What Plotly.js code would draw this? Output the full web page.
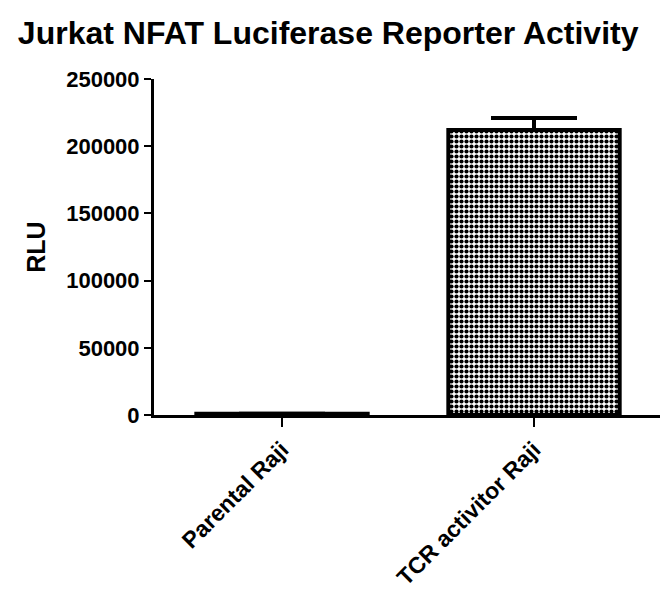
<!DOCTYPE html>
<html>
<head>
<meta charset="utf-8">
<script src="https://cdn.plot.ly/plotly-3.0.1.min.js"></script>
<style>html,body{margin:0;padding:0;background:#fff;}#chart{width:662px;height:605px;}</style>
</head>
<body>
<div id="chart"></div>
<script>
const categories = ["Parental Raji", "TCR activitor Raji"];
const rluValues = [1000, 212000];
const rluErrorUp = [0, 9000];
const yTickValues = [0, 50000, 100000, 150000, 200000, 250000];
const yTickLabels = ["0", "50000", "100000", "150000", "200000", "250000"];

const trace = {
  type: "bar",
  x: categories,
  y: rluValues,
  width: 0.68,
  marker: {
    color: "#ffffff",
    line: {color: "#000000", width: 4},
    pattern: {shape: ".", fgcolor: "#000000", bgcolor: "#ffffff", size: 5, solidity: 0.55, fillmode: "replace"}
  },
  error_y: {
    type: "data",
    symmetric: false,
    array: rluErrorUp,
    arrayminus: [0, 0],
    color: "#000000",
    thickness: 4,
    width: 43
  },
  hoverinfo: "skip"
};

const layout = {
  width: 662,
  height: 605,
  margin: {l: 154, r: 2, t: 79, b: 190},
  paper_bgcolor: "#ffffff",
  plot_bgcolor: "#ffffff",
  showlegend: false,
  font: {family: "Liberation Sans, Arial, sans-serif", color: "#000000"},
  title: {
    text: "<b>Jurkat NFAT Luciferase Reporter Activity</b>",
    font: {size: 32, family: "Liberation Sans, Arial, sans-serif", color: "#000"},
    x: 0.027, xanchor: "left", y: 0.945, yanchor: "middle"
  },
  xaxis: {
    type: "category",
    range: [-0.508, 1.5],
    showline: true, linecolor: "#000", linewidth: 3,
    ticks: "outside", ticklen: 9, tickwidth: 2, tickcolor: "#000",
    tickangle: -45,
    tickfont: {size: 23, family: "Liberation Sans, Arial, sans-serif", weight: "bold"},
    showgrid: false, zeroline: false, fixedrange: true
  },
  yaxis: {
    range: [0, 250000],
    tickmode: "array", tickvals: yTickValues, ticktext: yTickLabels,
    showline: true, linecolor: "#000", linewidth: 3,
    ticks: "outside", ticklen: 7, tickwidth: 2, tickcolor: "#000",
    tickfont: {size: 22, family: "Liberation Sans, Arial, sans-serif", weight: "bold"},
    showgrid: false, zeroline: false, fixedrange: true,
    title: {text: "<b>RLU</b>", font: {size: 25}, standoff: 14}
  }
};

Plotly.newPlot("chart", [trace], layout, {displayModeBar: false, staticPlot: true});
</script>
</body>
</html>
